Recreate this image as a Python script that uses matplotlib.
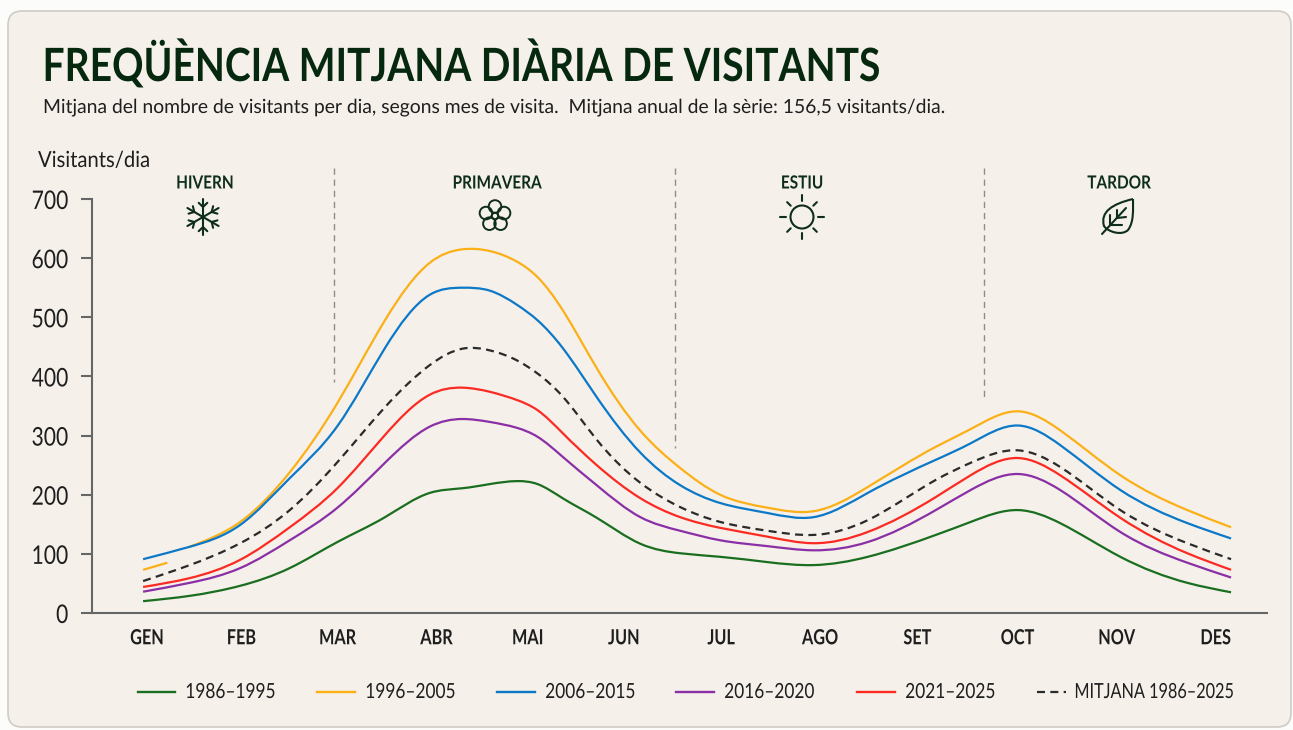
#!/usr/bin/env python3
# -*- coding: utf-8 -*-
import numpy as np
import matplotlib
matplotlib.use('Agg')
import matplotlib.pyplot as plt
from matplotlib.path import Path
from matplotlib.patches import PathPatch, FancyBboxPatch, Circle
from matplotlib.patheffects import AbstractPathEffect
from matplotlib.transforms import Affine2D

#%% data

mesos = ['GEN', 'FEB', 'MAR', 'ABR', 'MAI', 'JUN', 'JUL', 'AGO', 'SET', 'OCT', 'NOV', 'DES']
pos_mesos = [0, 0.97, 1.96, 2.98, 3.92, 4.91, 5.91, 6.93, 7.93, 8.96, 9.98, 11]
y_ticks = [0, 100, 200, 300, 400, 500, 600, 700]

# moments de lectura sobre l'eix dels mesos
t = [-0.04, 0.44, 0.96, 1.47, 1.96, 2.45, 2.91, 3.25, 3.53, 3.81, 4.02, 4.28, 4.63,
     5.08, 5.49, 5.90, 6.39, 6.86, 7.42, 8.12, 8.48, 8.97, 9.40, 10.02, 10.71, 11.16]

v_1986 = [20, 29, 46, 76, 120, 162, 203, 211, 218, 223, 218, 194, 161,
          117, 101, 95, 86, 81, 95, 132, 154, 174, 152, 95, 51, 35]
v_1996 = [np.nan, 112, 154, 238, 355, 495, 592, 615, 612, 594, 568, 512, 414,
          308, 245, 200, 178, 172, 213, 281, 311, 341, 309, 233, 174, 145]
v_2006 = [91, 112, 149, 228, 316, 448, 538, 550, 545, 521, 495, 448, 365,
          271, 216, 186, 169, 162, 203, 259, 287, 317, 284, 208, 152, 126]
v_2016 = [36, 51, 76, 123, 178, 254, 315, 328, 323, 313, 298, 264, 216,
          162, 139, 123, 113, 106, 120, 174, 208, 235, 208, 137, 85, 60]
v_2021 = [44, 59, 90, 145, 211, 301, 369, 381, 374, 360, 343, 304, 250,
          194, 162, 144, 129, 118, 137, 196, 233, 262, 233, 161, 101, 73]
v_mitjana = [54, 81, 118, 174, 255, 348, 419, 447, 444, 427, 405, 366, 293,
             220, 179, 154, 139, 132, 157, 225, 254, 275, 247, 174, 118, 91]

# tros solt de la sèrie groga a l'inici de l'any
t_inici = [-0.04, 0.21]
v_1996_inici = [73, 85]

series = [('1986–1995', v_1986, '#1a6e1f'),
          ('1996–2005', v_1996, '#fbb017'),
          ('2006–2015', v_2006, '#0b78c8'),
          ('2016–2020', v_2016, '#8a2fa5'),
          ('2021–2025', v_2021, '#fb2a22')]

estacions = ['HIVERN', 'PRIMAVERA', 'ESTIU', 'TARDOR']
separadors = [(1.93, 391), (5.44, 279), (8.62, 360)]

titol = 'FREQÜÈNCIA MITJANA DIÀRIA DE VISITANTS'
subtitol = ('Mitjana del nombre de visitants per dia, segons mes de visita.  '
            'Mitjana anual de la sèrie: 156,5 visitants/dia.')

#%% plot helpers

FONT = ['Lato', 'DejaVu Sans']
FOSC = '#0f2d1c'
TEXT = '#1e1e1e'
W, H = 1293, 730


class Condensa(AbstractPathEffect):
    # narrows the glyphs of a text, no condensed family is installed
    def __init__(self, sx, ha='left'):
        super().__init__()
        self.sx, self.ha = sx, ha

    def draw_path(self, renderer, gc, tpath, affine, rgbFace=None):
        ext = tpath.get_extents(affine)
        x0 = {'left': ext.x0, 'center': (ext.x0 + ext.x1) / 2, 'right': ext.x1}[self.ha]
        a = affine + Affine2D().translate(-x0, 0).scale(self.sx, 1).translate(x0, 0)
        renderer.draw_path(gc, tpath, a, rgbFace)


def spline_path(x, y):
    # natural cubic spline through the points, as bezier segments
    x = np.asarray(x, float)
    y = np.asarray(y, float)
    ok = ~np.isnan(y)
    x, y = x[ok], y[ok]
    n = len(x)
    h = np.diff(x)
    A = np.zeros((n, n))
    b = np.zeros(n)
    A[0, 0] = A[-1, -1] = 1
    for i in range(1, n - 1):
        A[i, i - 1], A[i, i], A[i, i + 1] = h[i - 1], 2 * (h[i - 1] + h[i]), h[i]
        b[i] = 6 * ((y[i + 1] - y[i]) / h[i] - (y[i] - y[i - 1]) / h[i - 1])
    c = np.linalg.solve(A, b)
    verts = [(x[0], y[0])]
    codes = [Path.MOVETO]
    for i in range(n - 1):
        m0 = (y[i + 1] - y[i]) / h[i] - h[i] * (2 * c[i] + c[i + 1]) / 6
        m1 = (y[i + 1] - y[i]) / h[i] + h[i] * (c[i] + 2 * c[i + 1]) / 6
        verts += [(x[i] + h[i] / 3, y[i] + m0 * h[i] / 3),
                  (x[i + 1] - h[i] / 3, y[i + 1] - m1 * h[i] / 3),
                  (x[i + 1], y[i + 1])]
        codes += [Path.CURVE4] * 3
    return Path(verts, codes)


def draw_line(ax, x, y, color, **kw):
    ax.add_patch(PathPatch(spline_path(x, y), fill=False, edgecolor=color,
                           lw=1.6, capstyle='butt', clip_on=False, **kw))


#%% figure

fig = plt.figure(figsize=(W / 100, H / 100), dpi=100, facecolor='#fcfcfb')

# overlay in pixels for the card, icons and legend
bg = fig.add_axes([0, 0, 1, 1], zorder=0)
bg.set_xlim(0, W)
bg.set_ylim(H, 0)
bg.axis('off')
bg.add_patch(FancyBboxPatch((8, 11), 1283, 716, boxstyle='round,pad=0,rounding_size=14',
                            facecolor='#f5f0ea', edgecolor='#cfcbc5', lw=1.2))

ax = fig.add_axes([92 / W, 1 - 613 / H, (1267 - 92) / W, (613 - 199) / H], zorder=1)
ax.patch.set_visible(False)
ax.set_xlim(-0.566, 11.53)
ax.set_ylim(0, 700)

for nom, valors, color in series:
    draw_line(ax, t, valors, color, zorder=3)
    if nom == '1996–2005':
        ax.plot(t_inici, v_1996_inici, color=color, lw=1.6, solid_capstyle='butt', zorder=3)
draw_line(ax, t, v_mitjana, '#2a2a2a', linestyle=(0, (3.6, 2.4)), zorder=3)

for xs, y_fi in separadors:
    ax.plot([xs, xs], [752, y_fi], color='#8d8d8d', lw=1, ls=(0, (4.5, 3.5)), clip_on=False, zorder=2)

for s in ['top', 'right']:
    ax.spines[s].set_visible(False)
for s in ['left', 'bottom']:
    ax.spines[s].set_color('#666666')
    ax.spines[s].set_linewidth(1.5)
ax.set_yticks(y_ticks)
ax.set_xticks(pos_mesos)
ax.set_xticklabels(mesos, fontsize=15, fontweight='bold', family=FONT, color=TEXT)
ax.set_yticklabels([str(v) for v in y_ticks], fontsize=18.5, family=FONT, color=TEXT)
for lab in ax.get_xticklabels():
    lab.set_path_effects([Condensa(0.78, 'center')])
for lab in ax.get_yticklabels():
    lab.set_path_effects([Condensa(0.82, 'right')])
ax.tick_params(axis='y', length=8, width=1.5, color='#666666', pad=9)
ax.tick_params(axis='x', length=0, pad=11)

# texts
bg.text(42, 81, titol, fontsize=33, fontweight='bold', family=FONT, color='#06280f', va='baseline',
        path_effects=[Condensa(0.85)])
bg.text(43, 113, subtitol, fontsize=14, family=FONT, color=TEXT, va='baseline',
        path_effects=[Condensa(0.992)])
bg.text(38, 167, 'Visitants/dia', fontsize=16, family=FONT, color=TEXT, va='baseline',
        path_effects=[Condensa(0.91)])
for nom, xc in zip(estacions, [205, 497, 802, 1119]):
    bg.text(xc, 183, nom, fontsize=13, fontweight='bold', family=FONT, color=FOSC,
            ha='center', va='center', path_effects=[Condensa(0.85, 'center')])

# icons
kw_icona = dict(color=FOSC, lw=1.5, solid_capstyle='round')
# snowflake
cx, cy = 203, 217
for a in np.deg2rad([90, 150, 210, 270, 330, 30]):
    d = np.array([np.cos(a), -np.sin(a)])
    bg.plot([cx, cx + 18 * d[0]], [cy, cy + 18 * d[1]], **kw_icona)
    for b in [0.8, -0.8]:
        e = np.array([np.cos(a + b), -np.sin(a + b)])
        p = np.array([cx, cy]) + 10 * d
        bg.plot([p[0], p[0] + 6 * e[0]], [p[1], p[1] + 6 * e[1]], **kw_icona)
# flower
cx, cy = 495, 216
for a in np.deg2rad([90, 18, -54, -126, 162]):
    bg.add_patch(Circle((cx + 9.5 * np.cos(a), cy - 9.5 * np.sin(a)), 6.3, fill=False, ec=FOSC, lw=1.4))
bg.add_patch(Circle((cx, cy), 3.2, fill=False, ec=FOSC, lw=1.4))
# sun
cx, cy = 802, 217
bg.add_patch(Circle((cx, cy), 11.5, fill=False, ec=FOSC, lw=1.5))
for a in np.deg2rad(np.arange(0, 360, 45)):
    r1, r2 = (16, 22) if int(round(np.rad2deg(a))) % 90 == 0 else (16, 21)
    bg.plot([cx + r1 * np.cos(a), cx + r2 * np.cos(a)], [cy + r1 * np.sin(a), cy + r2 * np.sin(a)], **kw_icona)
# leaf
fulla = Path([(1133, 199), (1112, 204), (1100, 212), (1104, 226), (1108, 232), (1122, 236), (1128, 230),
              (1134, 222), (1133, 210), (1133, 199)],
             [Path.MOVETO] + [Path.CURVE4] * 9)
bg.add_patch(PathPatch(fulla, fill=False, edgecolor=FOSC, lw=1.5))
bg.plot([1102, 1126], [234, 208], **kw_icona)
bg.plot([1110, 1110], [225, 215], **kw_icona)
bg.plot([1110, 1122], [225, 225], **kw_icona)
bg.plot([1117, 1117], [218, 210], **kw_icona)
bg.plot([1117, 1126], [218, 217], **kw_icona)

# legend
x_claus = [(138, 175), (317, 355), (497, 535), (676, 714), (857, 895)]
y_leg = 692
for (nom, valors, color), (x0, x1) in zip(series, x_claus):
    bg.plot([x0, x1], [y_leg, y_leg], color=color, lw=1.7)
    bg.text(x1 + 10, y_leg, nom, fontsize=15, family=FONT, color=TEXT, va='center',
            path_effects=[Condensa(0.83)])
bg.plot([1037, 1066], [y_leg, y_leg], color='#2a2a2a', lw=1.6, ls=(0, (3.6, 2.4)))
bg.text(1074, y_leg, 'MITJANA 1986–2025', fontsize=15, family=FONT, color=TEXT, va='center',
        path_effects=[Condensa(0.78)])

plt.savefig('out.png', dpi=100)
